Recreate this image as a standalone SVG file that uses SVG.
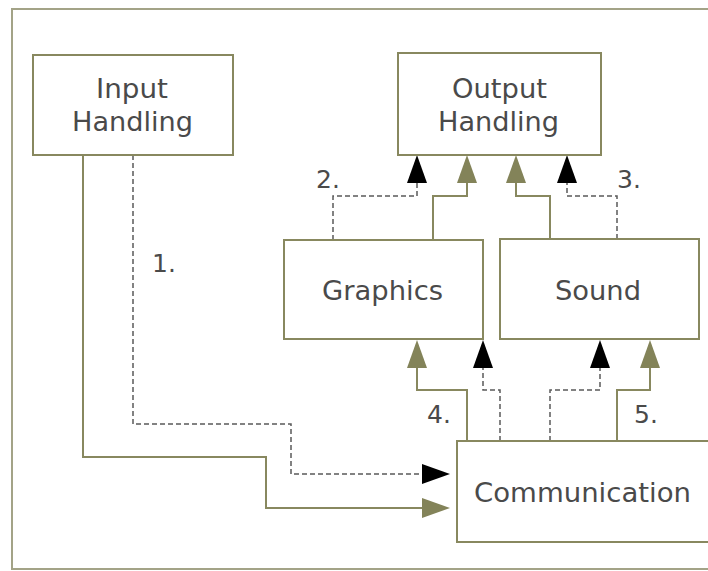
<svg xmlns="http://www.w3.org/2000/svg" width="708" height="571" viewBox="0 0 708 571">
  <style>
    .frame { fill: #ffffff; stroke: #a3a387; stroke-width: 2; }
    .box { fill: #ffffff; stroke: #88885f; stroke-width: 2; }
    .label { font-family: "DejaVu Sans", Verdana, sans-serif; font-size: 26px; fill: #4a4a4a; text-anchor: middle; }
    .num { font-family: "DejaVu Sans", Verdana, sans-serif; font-size: 25px; fill: #4a4a4a; }
    .solid { fill: none; stroke: #88885f; stroke-width: 2; marker-end: url(#arrow-olive); }
    .dashed { fill: none; stroke: #5a5a5a; stroke-width: 1.5; stroke-dasharray: 5 3; marker-end: url(#arrow-black); }
  </style>
  <defs>
    <marker id="arrow-olive" markerUnits="userSpaceOnUse" markerWidth="28" markerHeight="20" refX="0" refY="10" orient="auto" viewBox="0 0 28 20">
      <path d="M0,0 L28,10 L0,20 Z" fill="#838359"/>
    </marker>
    <marker id="arrow-black" markerUnits="userSpaceOnUse" markerWidth="28" markerHeight="20" refX="0" refY="10" orient="auto" viewBox="0 0 28 20">
      <path d="M0,0 L28,10 L0,20 Z" fill="#000000"/>
    </marker>
  </defs>

  <rect width="708" height="571" fill="#ffffff"/>
  <rect class="frame" x="12" y="9" width="720" height="560"/>

  <g id="connectors">
    <path class="solid" d="M83,155 V457 H266 V508 H422"/>
    <path class="dashed" d="M133,155 V424 H291 V474 H422"/>
    <path class="dashed" d="M333,240 V196 H417 V183"/>
    <path class="solid" d="M433,240 V196 H467 V183"/>
    <path class="solid" d="M550,239 V196 H516 V183"/>
    <path class="dashed" d="M617,239 V196 H567 V183"/>
    <path class="solid" d="M467,441 V390 H417 V368"/>
    <path class="dashed" d="M500,441 V390 H483 V368"/>
    <path class="dashed" d="M550,441 V390 H600 V368"/>
    <path class="solid" d="M617,441 V390 H650 V368"/>
    <text class="num" x="152" y="272">1.</text>
    <text class="num" x="316" y="188">2.</text>
    <text class="num" x="617" y="188">3.</text>
    <text class="num" x="427" y="423">4.</text>
    <text class="num" x="634" y="423">5.</text>
  </g>

  <g id="input-handling">
    <rect class="box" x="33" y="55" width="200" height="100"/>
    <text class="label" x="132" y="98" textLength="72" lengthAdjust="spacingAndGlyphs">Input</text>
    <text class="label" x="132.5" y="131" textLength="121" lengthAdjust="spacingAndGlyphs">Handling</text>
  </g>

  <g id="output-handling">
    <rect class="box" x="398" y="53" width="203" height="102"/>
    <text class="label" x="499.5" y="98" textLength="95" lengthAdjust="spacingAndGlyphs">Output</text>
    <text class="label" x="498.5" y="131" textLength="121" lengthAdjust="spacingAndGlyphs">Handling</text>
  </g>

  <g id="graphics">
    <rect class="box" x="284" y="240" width="199" height="99"/>
    <text class="label" x="382.5" y="300" textLength="121" lengthAdjust="spacingAndGlyphs">Graphics</text>
  </g>

  <g id="sound">
    <rect class="box" x="500" y="239" width="199" height="100"/>
    <text class="label" x="598" y="300" textLength="86" lengthAdjust="spacingAndGlyphs">Sound</text>
  </g>

  <g id="communication">
    <rect class="box" x="457" y="441" width="260" height="101"/>
    <text class="label" x="582.5" y="502" textLength="217" lengthAdjust="spacingAndGlyphs">Communication</text>
  </g>
</svg>
